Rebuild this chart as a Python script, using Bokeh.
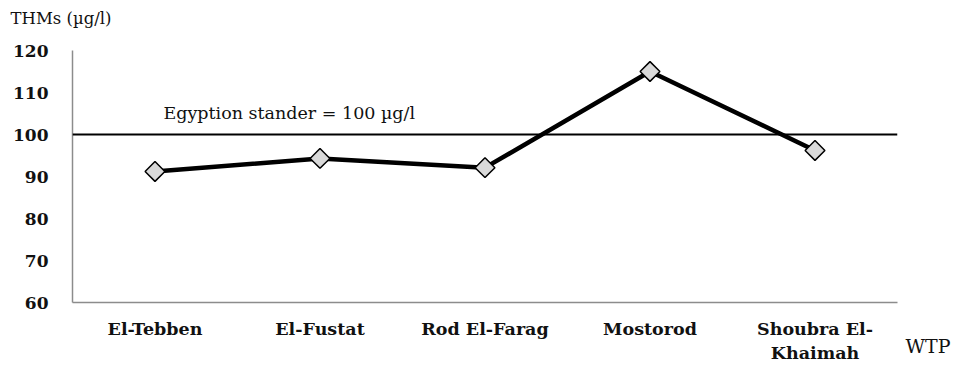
import math
from bokeh.plotting import figure
from bokeh.models import FactorRange, Range1d, Span, Label, FixedTicker
from bokeh.embed import file_html
from bokeh.resources import INLINE

# THM concentrations at each water treatment plant
plants = ["El-Tebben", "El-Fustat", "Rod El-Farag", "Mostorod", "Shoubra El-\nKhaimah"]
thms = [91.2, 94.3, 92.1, 115.0, 96.2]
standard = 100
y_ticks = [60, 70, 80, 90, 100, 110, 120]

SERIF = "DejaVu Serif"
INK = "#111111"

p = figure(
    width=957, height=367,
    x_range=FactorRange(*plants, range_padding=0),
    y_range=Range1d(60, 120),
    output_backend="svg", toolbar_location=None,
    min_border_left=72, min_border_right=60,
    min_border_top=50, min_border_bottom=65,
)
p.outline_line_color = None
p.grid.visible = False

# axes
for ax in (p.xaxis, p.yaxis):
    ax.axis_line_color = "#8c8c8c"
    ax.axis_line_width = 1.5
    ax.major_tick_line_color = None
    ax.minor_tick_line_color = None
    ax.major_label_text_font = SERIF
    ax.major_label_text_font_style = "bold"
    ax.major_label_text_color = INK

p.yaxis.ticker = FixedTicker(ticks=y_ticks)
p.yaxis.major_label_text_font_size = "17px"
p.yaxis.major_label_standoff = 18
p.xaxis.major_label_text_font_size = "17.5px"
p.xaxis.major_label_standoff = 10

# national limit
p.add_layout(Span(location=standard, dimension="width",
                  line_color="black", line_width=2))
p.add_layout(Label(x=91, x_units="screen", y=105.2, text="Egyption stander = 100 µg/l",
                   text_font=SERIF, text_font_size="17.5px", text_baseline="middle",
                   text_color=INK))

# measured series
p.line(plants, thms, line_color="black", line_width=4.5)
p.scatter(plants, thms, marker="square", size=14, angle=math.pi / 4,
          fill_color="#d9d9d9", line_color="black", line_width=1.5)

# axis titles placed in the side panels
p.add_layout(Label(x=-62, x_units="screen", y=32, y_units="screen",
                   text="THMs (µg/l)", text_font=SERIF, text_font_size="16.5px",
                   text_baseline="middle", text_color=INK), "above")
p.add_layout(Label(x=8, x_units="screen", y=-43, y_units="screen",
                   text="WTP", text_font=SERIF, text_font_size="19px",
                   text_baseline="middle", text_color=INK), "right")

open("out.html", "w").write(file_html(p, INLINE))
